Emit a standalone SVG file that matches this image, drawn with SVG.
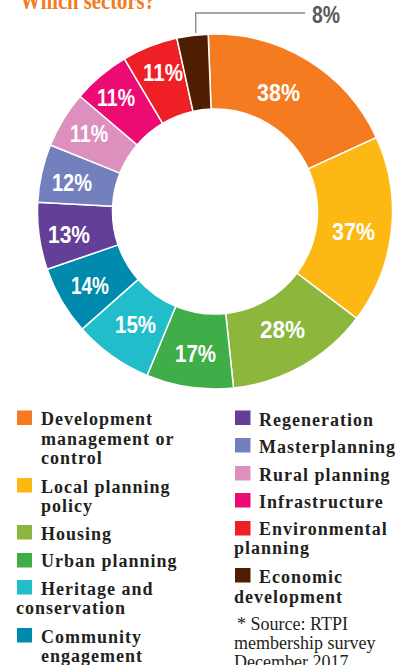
<svg xmlns="http://www.w3.org/2000/svg" width="401" height="665" viewBox="0 0 401 665">
<style>
.seg{stroke:#fff;stroke-width:1.5;stroke-linejoin:miter}
.pct{font-family:"Liberation Sans","DejaVu Sans",sans-serif;font-weight:bold;font-size:24px;fill:#fff;text-anchor:middle}
.leg{font-family:"Liberation Serif","DejaVu Serif",serif;font-weight:bold;font-size:18px;fill:#231f20;letter-spacing:1px}
.src{font-family:"Liberation Serif","DejaVu Serif",serif;font-size:18px;fill:#231f20}
.title{font-family:"Liberation Serif","DejaVu Serif",serif;font-weight:bold;font-size:26px;fill:#f47b20}
</style>
<rect width="401" height="665" fill="#fff"/>
<text class="title" x="20" y="9" textLength="135" lengthAdjust="spacingAndGlyphs">Which sectors?</text>
<g id="chart">
<g id="seg-dev"><path class="seg" fill="#f47b20" d="M208.19,34.13 A177.5,177.5 0 0 1 376.39,137.61 L308.20,168.83 A102.5,102.5 0 0 0 211.07,109.08 Z"/><text class="pct" x="278.5" y="101" textLength="43" lengthAdjust="spacingAndGlyphs">38%</text></g>
<g id="seg-local"><path class="seg" fill="#fdb813" d="M376.39,137.61 A177.5,177.5 0 0 1 356.76,318.32 L296.86,273.19 A102.5,102.5 0 0 0 308.20,168.83 Z"/><text class="pct" x="353.5" y="240" textLength="43" lengthAdjust="spacingAndGlyphs">37%</text></g>
<g id="seg-housing"><path class="seg" fill="#8cb63c" d="M356.76,318.32 A177.5,177.5 0 0 1 233.55,388.03 L225.71,313.44 A102.5,102.5 0 0 0 296.86,273.19 Z"/><text class="pct" x="282.5" y="338" textLength="45" lengthAdjust="spacingAndGlyphs">28%</text></g>
<g id="seg-urban"><path class="seg" fill="#3fae49" d="M233.55,388.03 A177.5,177.5 0 0 1 147.07,375.49 L175.77,306.20 A102.5,102.5 0 0 0 225.71,313.44 Z"/><text class="pct" x="195.5" y="362" textLength="41" lengthAdjust="spacingAndGlyphs">17%</text></g>
<g id="seg-heritage"><path class="seg" fill="#21bdca" d="M147.07,375.49 A177.5,177.5 0 0 1 82.06,329.12 L138.23,279.42 A102.5,102.5 0 0 0 175.77,306.20 Z"/><text class="pct" x="135.5" y="333" textLength="41" lengthAdjust="spacingAndGlyphs">15%</text></g>
<g id="seg-community"><path class="seg" fill="#008aad" d="M82.06,329.12 A177.5,177.5 0 0 1 47.17,269.29 L118.08,244.87 A102.5,102.5 0 0 0 138.23,279.42 Z"/><text class="pct" x="90" y="294" textLength="38" lengthAdjust="spacingAndGlyphs">14%</text></g>
<g id="seg-regen"><path class="seg" fill="#643f97" d="M47.17,269.29 A177.5,177.5 0 0 1 37.74,202.21 L112.64,206.14 A102.5,102.5 0 0 0 118.08,244.87 Z"/><text class="pct" x="69" y="243" textLength="42" lengthAdjust="spacingAndGlyphs">13%</text></g>
<g id="seg-master"><path class="seg" fill="#7281be" d="M37.74,202.21 A177.5,177.5 0 0 1 50.42,145.01 L119.96,173.10 A102.5,102.5 0 0 0 112.64,206.14 Z"/><text class="pct" x="72" y="191" textLength="40" lengthAdjust="spacingAndGlyphs">12%</text></g>
<g id="seg-rural"><path class="seg" fill="#dd8fbe" d="M50.42,145.01 A177.5,177.5 0 0 1 80.03,96.22 L137.06,144.93 A102.5,102.5 0 0 0 119.96,173.10 Z"/><text class="pct" x="89" y="142" textLength="38" lengthAdjust="spacingAndGlyphs">11%</text></g>
<g id="seg-infra"><path class="seg" fill="#ec0b73" d="M80.03,96.22 A177.5,177.5 0 0 1 124.38,58.88 L162.67,123.37 A102.5,102.5 0 0 0 137.06,144.93 Z"/><text class="pct" x="116" y="106" textLength="38" lengthAdjust="spacingAndGlyphs">11%</text></g>
<g id="seg-env"><path class="seg" fill="#ee1f25" d="M124.38,58.88 A177.5,177.5 0 0 1 176.88,38.14 L192.99,111.39 A102.5,102.5 0 0 0 162.67,123.37 Z"/><text class="pct" x="163" y="81" textLength="40" lengthAdjust="spacingAndGlyphs">11%</text></g>
<g id="seg-econ"><path class="seg" fill="#4f1e02" d="M176.88,38.14 A177.5,177.5 0 0 1 208.19,34.13 L211.07,109.08 A102.5,102.5 0 0 0 192.99,111.39 Z"/></g>
</g>
<g id="connectors">
<polyline points="195.7,33 195.7,13 305,13" fill="none" stroke="#8a8a8a" stroke-width="1.4"/>
</g>
<text class="pct" x="326" y="23" style="fill:#58595b" textLength="28" lengthAdjust="spacingAndGlyphs">8%</text>
<g id="legend-left">
<g id="leg-dev"><rect x="17" y="410.5" width="15" height="14.5" fill="#f47b20"/><text class="leg" x="41" y="425">Development</text><text class="leg" x="41" y="445">management or</text><text class="leg" x="41" y="464">control</text></g>
<g id="leg-local"><rect x="17" y="478" width="15" height="14.5" fill="#fdb813"/><text class="leg" x="41" y="493">Local planning</text><text class="leg" x="41" y="512">policy</text></g>
<g id="leg-housing"><rect x="17" y="525" width="15" height="14.5" fill="#8cb63c"/><text class="leg" x="41" y="540">Housing</text></g>
<g id="leg-urban"><rect x="17" y="553" width="15" height="14.5" fill="#3fae49"/><text class="leg" x="41" y="567">Urban planning</text></g>
<g id="leg-heritage"><rect x="17" y="580" width="15" height="14.5" fill="#21bdca"/><text class="leg" x="41" y="595">Heritage and</text><text class="leg" x="16" y="614">conservation</text></g>
<g id="leg-community"><rect x="17" y="628" width="15" height="14.5" fill="#0089af"/><text class="leg" x="41" y="643">Community</text><text class="leg" x="41" y="662">engagement</text></g>
</g>
<g id="legend-right">
<g id="leg-regen"><rect x="235" y="410.5" width="15.5" height="14.5" fill="#643f97"/><text class="leg" x="259" y="426">Regeneration</text></g>
<g id="leg-master"><rect x="235" y="438" width="15.5" height="14.5" fill="#7281be"/><text class="leg" x="259" y="453">Masterplanning</text></g>
<g id="leg-rural"><rect x="235" y="466" width="15.5" height="14.5" fill="#dd8fbe"/><text class="leg" x="259" y="481">Rural planning</text></g>
<g id="leg-infra"><rect x="235" y="493" width="15.5" height="14.5" fill="#ec0b73"/><text class="leg" x="259" y="508">Infrastructure</text></g>
<g id="leg-env"><rect x="235" y="521" width="15.5" height="14.5" fill="#ee1f25"/><text class="leg" x="259" y="535">Environmental</text><text class="leg" x="234" y="554">planning</text></g>
<g id="leg-econ"><rect x="235" y="568" width="15.5" height="14.5" fill="#4f1e02"/><text class="leg" x="259" y="583">Economic</text><text class="leg" x="234" y="603">development</text></g>
<g id="source"><text class="src" x="237" y="630">* Source: RTPI</text><text class="src" x="234" y="649">membership survey</text><text class="src" x="234" y="668">December 2017</text></g>
</g>
</svg>
